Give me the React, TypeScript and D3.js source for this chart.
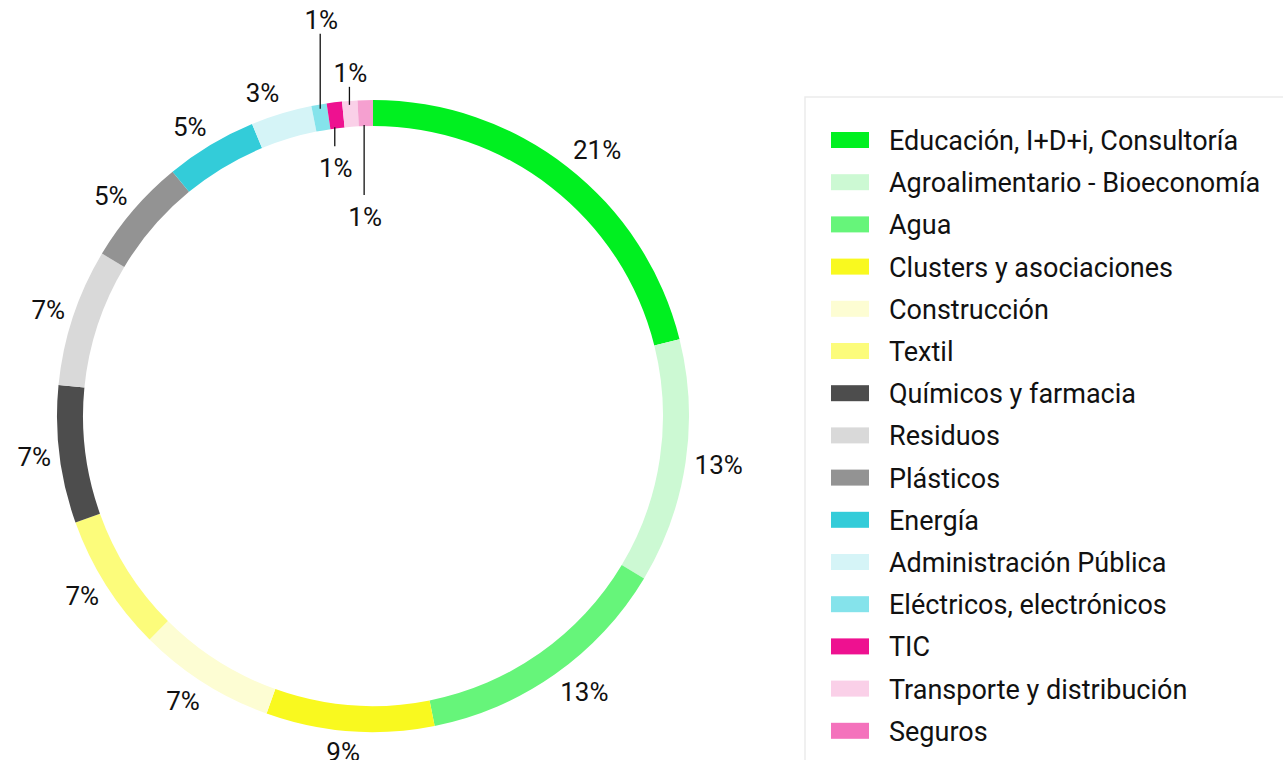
import React from "react";
import * as d3 from "d3";

const categories = [
  "Educación, I+D+i, Consultoría",
  "Agroalimentario - Bioeconomía",
  "Agua",
  "Clusters y asociaciones",
  "Construcción",
  "Textil",
  "Químicos y farmacia",
  "Residuos",
  "Plásticos",
  "Energía",
  "Administración Pública",
  "Eléctricos, electrónicos",
  "TIC",
  "Transporte y distribución",
  "Seguros",
];

const values = [27, 16, 17, 11, 9, 9, 9, 9, 7, 6, 4, 1, 1, 1, 1];

const colors = [
  "#00f020",
  "#ccf9d3",
  "#66f57a",
  "#f9f91f",
  "#fdfdd3",
  "#fcfc7b",
  "#4d4d4d",
  "#d9d9d9",
  "#939393",
  "#33ccd9",
  "#d5f4f7",
  "#85e3eb",
  "#ee1190",
  "#fad0e8",
  "#f472bc",
];

const arcColors = colors.map((c, i) => (i === 14 ? "#f5a0d0" : c));

const W = 1283;
const H = 760;
const cx = 373;
const cy = 416;
const outerR = 316;
const innerR = 290;
const FONT = "Roboto, 'Noto Sans', sans-serif";

export default function App() {
  const total = d3.sum(values);
  const pie = d3
    .pie<number>()
    .sort(null)
    .startAngle(0)
    .endAngle(Math.PI * 2)
    .value((d) => d);
  const arcs = pie(values);
  const arcGen = d3.arc<d3.PieArcDatum<number>>().innerRadius(innerR).outerRadius(outerR);

  const labels: React.ReactNode[] = [];
  let smallIdx = 0;
  arcs.forEach((a, i) => {
    const pct = Math.round((a.value / total) * 100);
    const text = `${pct}%`;
    const mid = (a.startAngle + a.endAngle) / 2;
    const sx = Math.sin(mid);
    const sy = -Math.cos(mid);
    const fs = 26;
    if (a.value >= 3) {
      const w = text.length * fs * 0.62;
      const h = fs * 0.95;
      const r = 325;
      const px = cx + r * sx;
      const py = cy + r * sy;
      const k = Math.max(-1, Math.min(1, sx * 5));
      labels.push(
        <text
          key={"l" + i}
          x={px + (w / 2) * k}
          y={py + (sy * h) / 2}
          textAnchor="middle"
          dominantBaseline="central"
          fontSize={fs}
          fontFamily={FONT}
          fill="#111"
        >
          {text}
        </text>
      );
    } else {
      const k = smallIdx++;
      const lx = cx + 300 * sx - 1.5;
      const outside = k % 2 === 0;
      const long = k === 0 || k === 3;
      let y1: number, y2: number, ty: number;
      if (outside) {
        y1 = cy + outerR * sy + 4;
        y2 = y1 - (long ? 75 : 18);
        ty = y2 - 14;
      } else {
        y1 = cy + innerR * sy - 1;
        y2 = y1 + (long ? 70 : 19);
        ty = y2 + 22;
      }
      labels.push(
        <g key={"s" + i}>
          <line x1={lx} x2={lx} y1={y1} y2={y2} stroke="#111" strokeWidth={1.3} />
          <text
            x={lx + 1}
            y={ty}
            textAnchor="middle"
            dominantBaseline="central"
            fontSize={fs}
            fontFamily={FONT}
            fill="#111"
          >
            {text}
          </text>
        </g>
      );
    }
  });

  const legendX = 805;
  const legendY = 97;
  const rowY0 = 140;
  const rowStep = 42.2;

  return (
    <div style={{ position: "absolute", left: 0, top: 0, width: W, height: H, overflow: "hidden", background: "#fff" }}>
      <svg width={W} height={H} viewBox={`0 0 ${W} ${H}`}>
        <rect x={0} y={0} width={W} height={H} fill="#fff" />
        <g transform={`translate(${cx},${cy})`}>
          {arcs.map((a, i) => (
            <path key={i} d={arcGen(a) || ""} fill={arcColors[i]} />
          ))}
        </g>
        {labels}
        <rect
          x={legendX}
          y={legendY}
          width={W - legendX + 20}
          height={H}
          fill="#fff"
          stroke="#ebebeb"
          strokeWidth={1.5}
        />
        {categories.map((c, i) => {
          const y = rowY0 + i * rowStep;
          return (
            <g key={c}>
              <rect x={831} y={y - 8} width={38} height={16} fill={colors[i]} />
              <text
                x={889}
                y={y + 1}
                dominantBaseline="central"
                fontSize={27}
                fontFamily={FONT}
                fill="#111"
              >
                {c}
              </text>
            </g>
          );
        })}
      </svg>
    </div>
  );
}
